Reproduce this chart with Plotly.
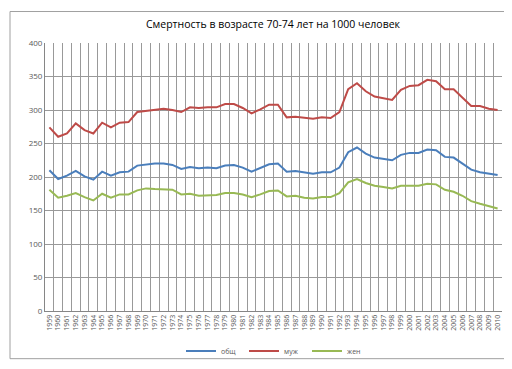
import plotly.graph_objects as go

years = list(range(1959, 2011))
total = [210, 197, 202, 209, 201, 196, 208, 202, 207, 208, 217, 219, 220, 220, 218, 212,
         215, 213, 214, 213, 217, 218, 214, 208, 213, 219, 220, 208, 209, 207, 205, 207,
         207, 214, 237, 244, 235, 229, 227, 225, 233, 236, 236, 241, 240, 230, 229, 220,
         211, 207, 205, 203]
male = [274, 260, 265, 280, 270, 265, 281, 274, 281, 282, 297, 299, 301, 302, 300, 297,
        304, 303, 304, 304, 309, 309, 303, 295, 301, 308, 308, 289, 290, 289, 287, 289,
        288, 297, 331, 340, 328, 320, 318, 315, 330, 336, 337, 345, 343, 331, 331, 318,
        306, 306, 302, 300]
female = [181, 169, 172, 176, 170, 165, 175, 169, 174, 174, 180, 183, 182, 182, 181, 174,
          175, 172, 173, 173, 176, 176, 174, 170, 174, 179, 180, 171, 172, 169, 168, 170,
          170, 176, 192, 197, 191, 187, 185, 183, 187, 187, 187, 190, 189, 181, 178, 172,
          164, 160, 157, 153]
series_names = ["общ", "муж", "жен"]
colors = ["#4A7EBB", "#BE4B48", "#98B954"]
title = "Смертность в возрасте 70-74 лет на 1000 человек"

fig = go.Figure()
for name, vals, c in zip(series_names, [total, male, female], colors):
    fig.add_trace(go.Scatter(x=years, y=vals, mode="lines", name=name,
                             line=dict(color=c, width=2)))

L, R, T, B = 37, 18, 35, 53
W, H = 512, 369
pw, ph = W - L - R, H - T - B

fig.update_layout(
    width=W, height=H,
    margin=dict(l=L, r=R, t=T, b=B),
    paper_bgcolor="white", plot_bgcolor="white",
    font=dict(family="Open Sans, DejaVu Sans, sans-serif", color="#595959"),
    title=dict(text=title, x=265 / W, xanchor="center", y=1 - 16 / H, yanchor="middle",
               font=dict(size=10.5, color="#000000")),
    showlegend=True,
    legend=dict(orientation="h", x=(173 - L) / pw, xanchor="left",
                y=(H - B - 358) / ph, yanchor="middle",
                font=dict(size=7, color="#595959"), entrywidth=18,
                entrywidthmode="pixels",
                tracegroupgap=0, bgcolor="rgba(0,0,0,0)"),
    xaxis=dict(range=[1958.5, 2010.5], tickmode="array", tickvals=years,
               ticktext=[str(y) for y in years], tickangle=-90,
               tickfont=dict(size=7, color="#595959"), showgrid=False,
               showline=True, linecolor="#868686", linewidth=1, ticks="",
               zeroline=False,
               minor=dict(tick0=1958.5, dtick=1, showgrid=True, gridcolor="#999999",
                          gridwidth=1)),
    yaxis=dict(range=[0, 400], tickmode="array", tickvals=list(range(0, 401, 50)),
               tickfont=dict(size=8, color="#595959"), showgrid=True,
               gridcolor="#999999", gridwidth=1, showline=True, linecolor="#868686",
               zeroline=False, ticks=""),
)

fig.add_shape(type="rect", xref="paper", yref="paper",
              x0=(2 - L) / pw, x1=(509 - L) / pw,
              y0=(H - B - 366) / ph, y1=(H - B - 2) / ph,
              line=dict(color="#A0A0A0", width=1), layer="below")

fig.write_html("out.html")
